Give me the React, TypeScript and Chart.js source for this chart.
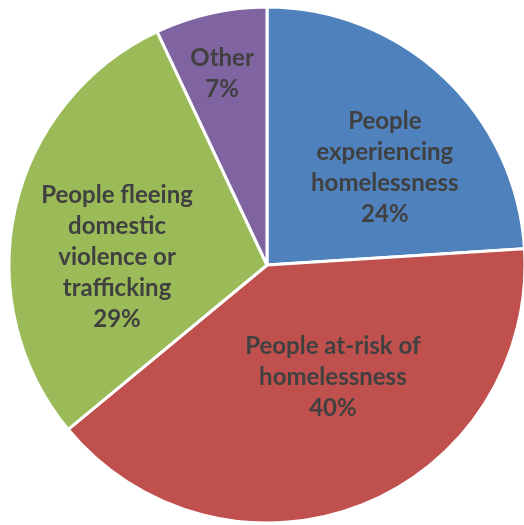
import React, { useEffect, useRef } from "react";
import { Chart, registerables } from "chart.js";

Chart.register(...registerables);

const categories: string[][] = [
  ["People", "experiencing", "homelessness"],
  ["People at-risk of", "homelessness"],
  ["People fleeing", "domestic", "violence or", "trafficking"],
  ["Other"],
];
const values: number[] = [24, 40, 29, 7];
const colors: string[] = ["#4F81BD", "#C0504D", "#9BBB59", "#8064A2"];

// label placement: fraction along slice angle, fraction of radius
const labelAngleFrac = [0.583, 0.439, 0.407, 0.476];
const labelRadiusFrac = [0.593, 0.505, 0.582, 0.762];

const labelPlugin = {
  id: "sliceLabels",
  afterDatasetsDraw(chart: any) {
    const ctx = chart.ctx;
    const meta = chart.getDatasetMeta(0);
    ctx.save();
    ctx.font = "bold 24px Lato";
    ctx.fillStyle = "#404040";
    ctx.textAlign = "center";
    ctx.textBaseline = "middle";
    const lineH = 31;
    meta.data.forEach((arc: any, i: number) => {
      const { x, y, startAngle, endAngle, outerRadius } = arc.getProps(
        ["x", "y", "startAngle", "endAngle", "outerRadius"],
        true
      );
      const a = startAngle + labelAngleFrac[i] * (endAngle - startAngle);
      const r = outerRadius * labelRadiusFrac[i];
      const cx = x + Math.cos(a) * r;
      const cy = y + Math.sin(a) * r;
      const lines = [...categories[i], `${values[i]}%`];
      const top = cy - ((lines.length - 1) * lineH) / 2;
      lines.forEach((ln, j) => ctx.fillText(ln, cx, top + j * lineH));
    });
    ctx.restore();
  },
};

export default function App() {
  const ref = useRef<HTMLCanvasElement>(null);
  useEffect(() => {
    document.body.style.margin = "0";
    const chart = new Chart(ref.current!, {
      type: "pie",
      data: {
        labels: categories.map((c) => c.join(" ")),
        datasets: [
          {
            data: values,
            backgroundColor: colors,
            borderColor: "#ffffff",
            borderWidth: 3,
          },
        ],
      },
      options: {
        responsive: false,
        animation: false,
        radius: 258,
        layout: { padding: { left: 10, right: 0, top: 5, bottom: 0 } },
        plugins: {
          legend: { display: false },
          tooltip: { enabled: false },
        },
      } as any,
      plugins: [labelPlugin],
    });
    return () => chart.destroy();
  }, []);
  return (
    <div style={{ width: 524, height: 525 }}>
      <canvas ref={ref} width={524} height={525} />
    </div>
  );
}
